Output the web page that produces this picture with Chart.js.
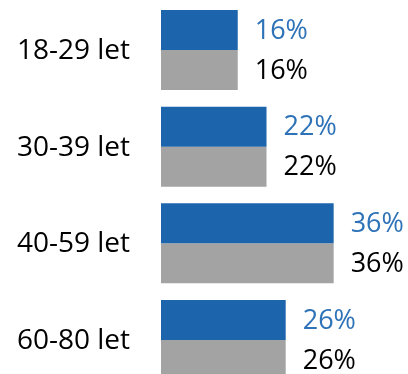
<!DOCTYPE html>
<html>
<head>
<meta charset="utf-8">
<script src="https://cdn.jsdelivr.net/npm/chart.js@4"></script>
<style>
  html, body { margin: 0; padding: 0; background: #fff; overflow: hidden; }
  canvas { display: block; }
</style>
</head>
<body>
<canvas id="ageChart" width="408" height="390"></canvas>
<script>
// Věkové skupiny a podíly (%)
var ageGroups = ["18-29 let", "30-39 let", "40-59 let", "60-80 let"];
var sampleShares = [16, 22, 36, 26];
var populationShares = [16, 22, 36, 26];

var labelColors = ["#2e72b7", "#000000"];

// Názvy skupin vlevo a popisky hodnot vpravo od sloupců
var textLabels = {
    id: "textLabels",
    afterDatasetsDraw: function(chart) {
        var ctx = chart.ctx;
        var yScale = chart.scales.y;
        ctx.save();
        ctx.textBaseline = "middle";

        ctx.font = "28px 'Open Sans'";
        ctx.textAlign = "right";
        ctx.fillStyle = "#000000";
        chart.data.labels.forEach(function(name, j) {
            ctx.fillText(name, 130, yScale.getPixelForValue(j) + 1);
        });

        ctx.font = "27px 'Open Sans'";
        ctx.textAlign = "left";
        chart.data.datasets.forEach(function(ds, i) {
            var meta = chart.getDatasetMeta(i);
            ctx.fillStyle = labelColors[i];
            meta.data.forEach(function(bar, j) {
                ctx.fillText(ds.data[j] + "%", bar.x + 17, bar.y + 1);
            });
        });
        ctx.restore();
    }
};

document.addEventListener("DOMContentLoaded", function() {
    var ctx = document.getElementById("ageChart").getContext("2d");
    new Chart(ctx, {
        type: "bar",
        data: {
            labels: ageGroups,
            datasets: [{
                label: "Vzorek",
                data: sampleShares,
                backgroundColor: "#1c64ab",
                barPercentage: 1,
                categoryPercentage: 0.8276
            }, {
                label: "Populace",
                data: populationShares,
                backgroundColor: "#a3a3a3",
                barPercentage: 1,
                categoryPercentage: 0.8276
            }]
        },
        options: {
            indexAxis: "y",
            responsive: false,
            animation: false,
            layout: {
                padding: { top: 1.7, bottom: 1.7, left: 0, right: 0 }
            },
            plugins: {
                legend: { display: false },
                tooltip: { enabled: false }
            },
            scales: {
                x: {
                    display: false,
                    min: 0,
                    max: 51.5
                },
                y: {
                    grid: { display: false, drawTicks: false },
                    border: { display: false },
                    ticks: { display: false },
                    afterFit: function(scale) {
                        scale.width = 161;
                    }
                }
            }
        },
        plugins: [textLabels]
    });
});
</script>
</body>
</html>
